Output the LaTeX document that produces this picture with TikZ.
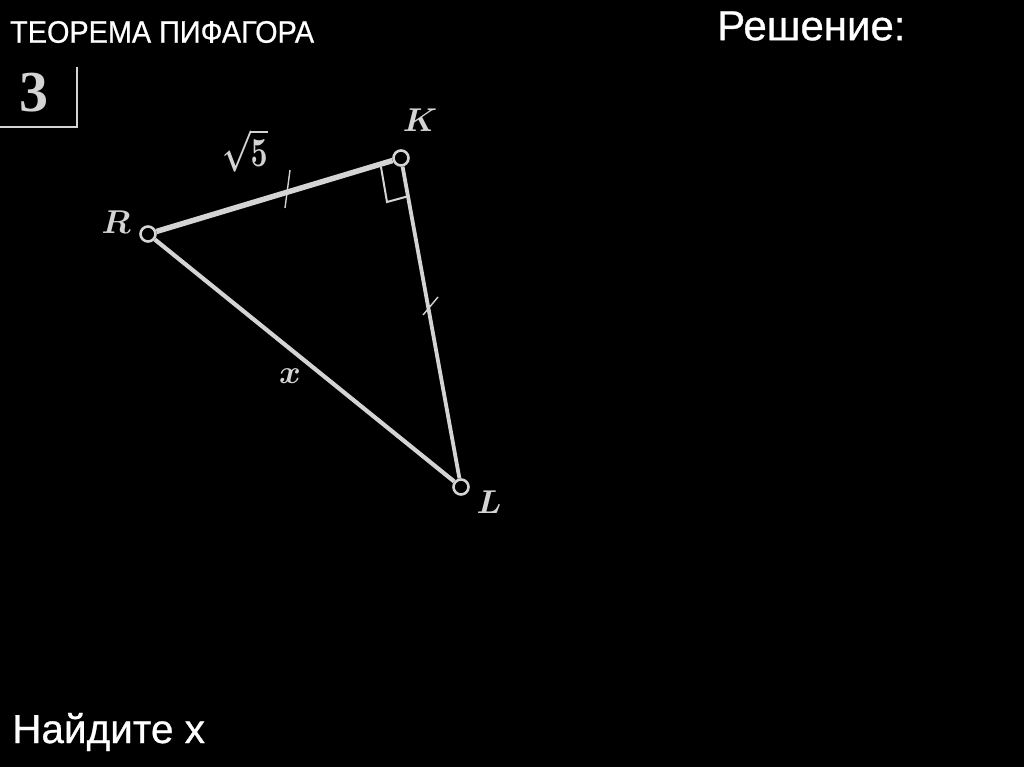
\documentclass[tikz,border=0pt]{standalone}
\usepackage{amsmath}
\usepackage{fontspec}
\setmainfont{Liberation Sans}
\newfontfamily\headfont{Liberation Sans}[FakeBold=0.7]
\newfontfamily\numfont{Liberation Serif}
\usetikzlibrary{shapes}
\definecolor{chalk}{HTML}{D4D4D4}
\tikzstyle{vertex}=[circle,draw=chalk,line width=2.6pt,minimum size=15pt,inner sep=0pt]
\tikzstyle{side}=[draw=chalk,line width=5.5pt]
\tikzstyle{tick}=[draw=chalk,line width=1.4pt]
\tikzstyle{lbl}=[text=chalk,font=\boldmath,scale=3.3,transform shape,inner sep=0pt]
\tikzstyle{heading}=[text=white,inner sep=0pt,anchor=west]
\newcommand{\tikzpicscale}{1pt}

\begin{document}
\begin{tikzpicture}[x=\tikzpicscale,y=-\tikzpicscale]
    \fill[black] (0,0) rectangle (1024,767);
    \useasboundingbox (0,0) rectangle (1024,767);
	 % headings
    \node[heading,font=\headfont\fontsize{31}{34}\selectfont,xscale=0.93,transform shape] (title) at (10,32) {ТЕОРЕМА ПИФАГОРА};
    \node[heading,font=\headfont\fontsize{42}{46}\selectfont] (sol) at (717,26) {Решение:};
    \node[heading,font=\headfont\fontsize{40.5}{44}\selectfont] (task) at (12,732) {Найдите x};
	 % problem number
    \node[text=chalk,font=\numfont\bfseries\fontsize{58}{60}\selectfont] (num) at (34,93) {3};
    \draw[chalk,line width=2pt] (77,67) -- (77,127) -- (0,127);
	 % triangle
    \node[vertex] (R) at (148,234) {};
    \node[vertex] (K) at (401,158) {};
    \node[vertex] (L) at (461,487) {};
    \draw[side] (R) -- (K);
    \draw[side,line width=4.2pt] (R) -- (L);
    \draw[side,line width=3.8pt] (K) -- (L);
	 % right angle and equal marks
    \draw[chalk,line width=2pt] (381,167) -- (387,202) -- (409,196);
    \draw[tick] (290,170) -- (285,208);
    \draw[tick] (438,297) -- (423,315);
	 % labels
    \node[lbl] (labR) at (116,222) {$R$};
    \node[lbl] (labK) at (420,120) {$K$};
    \node[lbl] (labL) at (489,502) {$L$};
    \node[lbl,scale=1.25,xscale=0.72] (labRK) at (245,150) {$\sqrt{5}$};
    \node[lbl] (labRL) at (290,376) {$x$};
\end{tikzpicture}
\end{document}
